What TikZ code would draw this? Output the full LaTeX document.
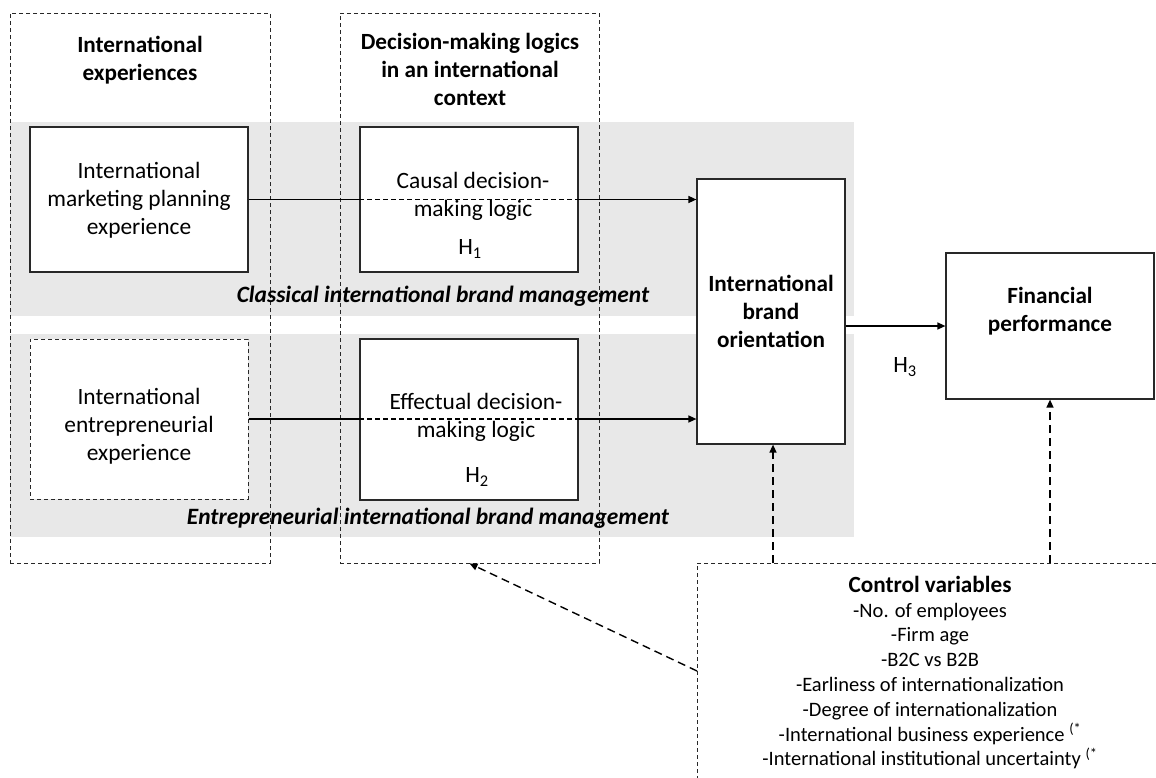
\documentclass[tikz,border=0pt]{standalone}
\usepackage{fontspec}
\setmainfont{Carlito}
\usetikzlibrary{arrows.meta}
\definecolor{band}{RGB}{232,232,232}
\definecolor{edge}{RGB}{40,40,40}
\begin{document}
\begin{tikzpicture}[x=1pt,y=-1pt,
  solidbox/.style={draw=edge, line width=1.2pt, fill=white, inner sep=0pt},
  dashbox/.style={draw=edge, line width=1pt, dash pattern=on 4pt off 3pt, fill=white, inner sep=0pt},
  colbox/.style={draw=edge, line width=0.9pt, dash pattern=on 4pt off 3pt, inner sep=0pt},
  txt/.style={font=\fontsize{23.4}{28}\selectfont, align=center, inner sep=0pt},
  btxt/.style={font=\fontsize{23.2}{28}\selectfont\bfseries, align=center, inner sep=0pt},
  itxt/.style={font=\fontsize{23.4}{28}\selectfont\bfseries\itshape, inner sep=0pt},
  ctxt/.style={font=\fontsize{20.5}{24.8}\selectfont, align=center, inner sep=0pt},
  conn/.style={draw=black, line width=1.4pt},
  tip/.style={-{Triangle[length=8pt,width=7pt]}},
  darr/.style={draw=black, line width=1.4pt, dash pattern=on 8pt off 5pt, -{Triangle[length=8pt,width=7pt]}},
  ctrlline/.style={draw=edge, line width=1pt, dash pattern=on 4pt off 3pt}
]
\useasboundingbox (0,0) rectangle (1156,778);
% grey bands
\fill[band] (10,122) rectangle (854,316);
\fill[band] (10,334) rectangle (854,537);
% dashed columns
\node[colbox, minimum width=260pt, minimum height=550pt] (col1) at (140,288) {};
\node[colbox, minimum width=259pt, minimum height=550pt] (col2) at (469.5,288) {};
\node[btxt] (t1) at (140,60) {International\\experiences};
\node[btxt] (t2) at (470,69.5) {Decision-making logics\\in an international\\context};
% band labels
\node[itxt] (lab1) at (443,296) {Classical international brand management};
\node[itxt] (lab2) at (428,518) {Entrepreneurial international brand management};
% boxes
\node[solidbox, minimum width=218pt, minimum height=145pt] (imp) at (139,199.5) {};
\node[txt] (imptxt) at (139,200) {International\\marketing planning\\experience};
\node[dashbox, minimum width=218pt, minimum height=160pt] (iee) at (139,419) {};
\node[txt] (ieetxt) at (139,426) {International\\entrepreneurial\\experience};
\node[solidbox, minimum width=218pt, minimum height=145pt] (causal) at (469,199.5) {};
\node[txt] (causaltxt) at (473,196) {Causal decision-\\making logic};
\node[txt] (h1) at (470,249) {H\textsubscript{1}};
\node[solidbox, minimum width=218pt, minimum height=161pt] (eff) at (469,419.5) {};
\node[txt] (efftxt) at (476,417) {Effectual decision-\\making logic};
\node[txt] (h2) at (477,477) {H\textsubscript{2}};
\node[solidbox, minimum width=148pt, minimum height=265pt] (ibo) at (771,311.5) {};
\node[btxt] (ibotxt) at (771,311.5) {International\\brand\\orientation};
\node[solidbox, minimum width=208pt, minimum height=146pt] (fp) at (1050,326) {};
\node[btxt] (fptxt) at (1050,311) {Financial\\performance};
\node[txt] (h3) at (905,367) {H\textsubscript{3}};
% connectors
\draw[conn] (imp.east) -- (causal.west);
\draw[conn, dash pattern=on 5pt off 3pt] (causal.west) -- (causal.east);
\draw[conn, tip] (causal.east) -- (ibo.west |- causal.east);
\draw[conn] (iee.east) -- (eff.west |- iee.east);
\draw[conn, dash pattern=on 5pt off 3pt] (eff.west |- iee.east) -- (eff.east |- iee.east);
\draw[conn, tip] (eff.east |- iee.east) -- (ibo.west |- iee.east);
\draw[conn, tip] (ibo.east |- fp.west) -- (fp.west);
% control variables
\coordinate (ctlR) at (1156,563);
\coordinate (ctlTL) at (697,563);
\coordinate (ctlB) at (697,778);
\draw[ctrlline] (ctlR) -- (ctlTL) -- (ctlB);
\node[btxt] (ctrlhead) at (930,584) {Control variables};
\node[ctxt] (ctrl) at (930,686) {-No. of employees\\-Firm age\\-B2C vs B2B\\-Earliness of internationalization\\-Degree of internationalization\\-International business experience \textsuperscript{(*}\\-International institutional uncertainty \textsuperscript{(*}};
\coordinate (c1) at (773,563);
\coordinate (c2) at (1050,563);
\coordinate (c3) at (697,671);
\draw[darr] (c1) -- (c1 |- ibo.south);
\draw[darr] (c2) -- (fp.south);
\draw[darr] (c3) -- (col2.south);
\end{tikzpicture}
\end{document}
